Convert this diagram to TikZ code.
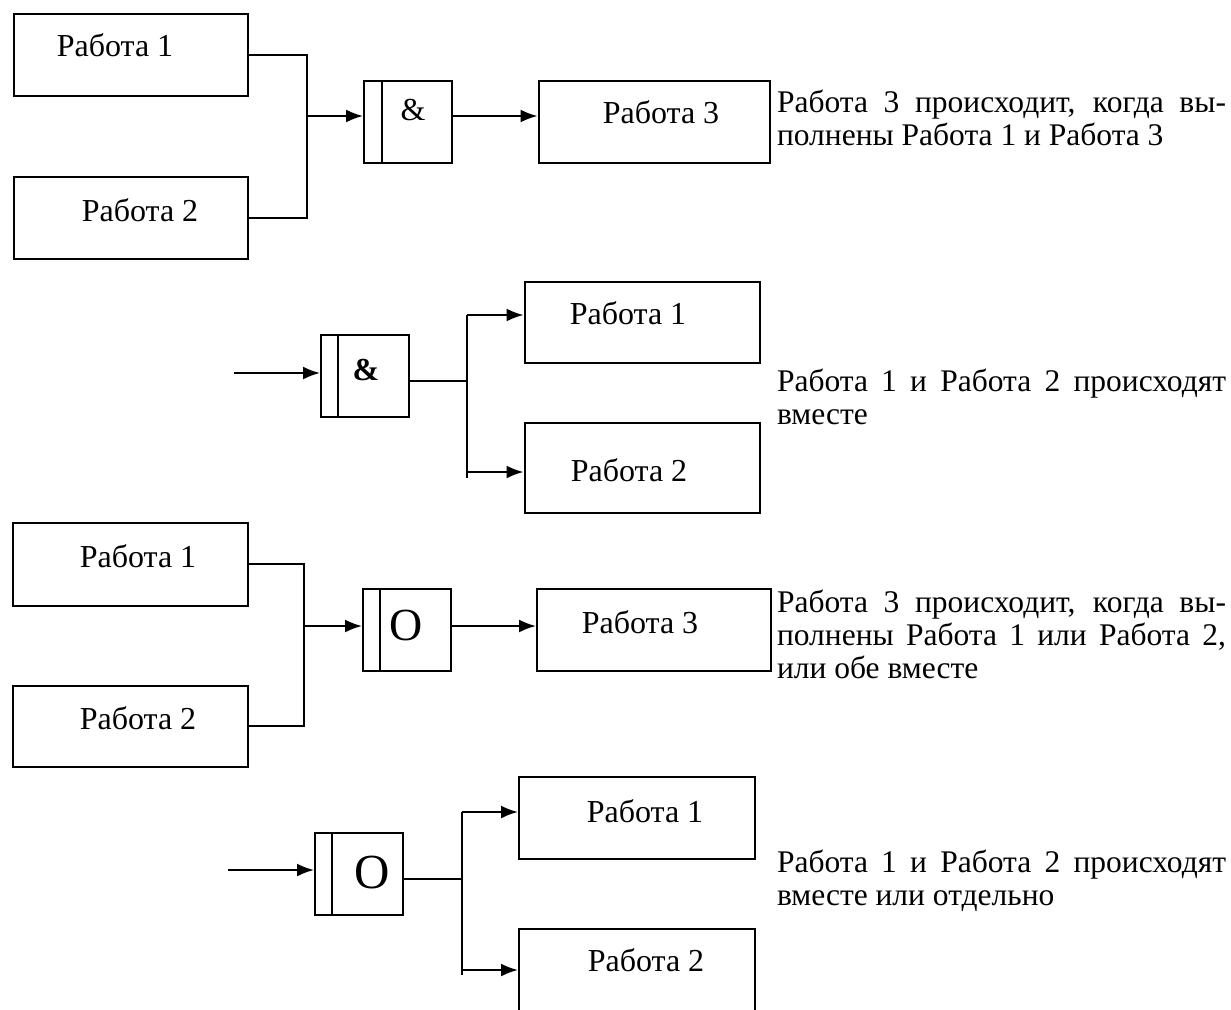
\documentclass[tikz,border=0pt]{standalone}
\usepackage{fontspec}
\setmainfont{Liberation Serif}
\usetikzlibrary{arrows.meta,positioning}

\begin{document}
\begin{tikzpicture}[x=1pt,y=-1pt,line width=2pt,
  job/.style={draw,rectangle,minimum width=234pt,minimum height=82pt,inner sep=0pt},
  gate/.style={draw,rectangle,minimum width=88pt,minimum height=82pt,inner sep=0pt},
  lbl/.style={inner sep=0pt,font=\fontsize{32}{35}\selectfont},
  sym/.style={inner sep=0pt,font=\fontsize{46}{50}\selectfont},
  note/.style={inner sep=0pt,anchor=base west,text width=449pt,align=justify,
    font=\fontsize{31.5}{33}\selectfont},
  arr/.style={-{Latex[length=17pt,width=13pt]}}]
\useasboundingbox (0,0) rectangle (1231,1009);
\clip (0,0) rectangle (1231,1009);
%%%%% first: AND join
\node[job] (a1) at (131,55) {};
\node[job] (a2) at (131,218) {};
\node[gate] (g1) at (408,122) {};
\node[job,minimum width=231pt] (a3) at (654,122) {};
\node[lbl] (a1t) at (115,45) {Работа 1};
\node[lbl] (a2t) at (140,210) {Работа 2};
\node[lbl] (a3t) at (661,112) {Работа 3};
\node[lbl] (g1t) at (413,110) {\&};
\draw ([xshift=19pt]g1.north west) -- ([xshift=19pt]g1.south west);
\coordinate (j1) at (307,116);
\draw (a1.east) -| (j1);
\draw (a2.east) -| (j1);
\draw[arr] (j1) -- (j1 -| g1.west);
\draw[arr] (j1 -| g1.east) -- (j1 -| a3.west);
\node[note] (n1) at (776,112) {Работа 3 происходит, когда вы-\linebreak полнены Работа 1 и Работа 3};
%%%%% second: AND split
\coordinate (s2) at (234,373);
\node[gate] (g2) at (365,376) {};
\node[lbl] (g2t) at (366,370) {\bfseries\&};
\draw ([xshift=18pt]g2.north west) -- ([xshift=18pt]g2.south west);
\node[job,minimum width=235pt,minimum height=81pt] (b1) at (642,322) {};
\node[job,minimum width=235pt,minimum height=90pt] (b2) at (642,468) {};
\node[lbl] (b1t) at (628,313) {Работа 1};
\node[lbl] (b2t) at (629,470) {Работа 2};
\coordinate (j2) at (467,381);
\coordinate (j2a) at (467,315);
\coordinate (j2b) at (467,472);
\draw[arr] (s2) -- (s2 -| g2.west);
\draw (j2 -| g2.east) -- (j2);
\draw (j2a) -- (467,478);
\draw[arr] (j2a) -- (j2a -| b1.west);
\draw[arr] (j2b) -- (j2b -| b2.west);
\node[note] (n2) at (776,391) {Работа 1 и Работа 2 происходят\linebreak вместе};
%%%%% third: OR join
\node[job,minimum width=235pt,minimum height=83pt] (c1) at (130,564) {};
\node[job,minimum width=235pt,minimum height=81pt] (c2) at (130,726) {};
\node[gate] (g3) at (407,630) {};
\node[job,minimum width=234pt,minimum height=82pt] (c3) at (654,630) {};
\node[lbl] (c1t) at (138,556) {Работа 1};
\node[lbl] (c2t) at (138,718) {Работа 2};
\node[lbl] (c3t) at (640,622) {Работа 3};
\node[sym] (g3t) at (406,625) {O};
\draw ([xshift=18pt]g3.north west) -- ([xshift=18pt]g3.south west);
\coordinate (j3) at (304,626);
\draw (c1.east) -| (j3);
\draw (c2.east) -| (j3);
\draw[arr] (j3) -- (j3 -| g3.west);
\draw[arr] (j3 -| g3.east) -- (j3 -| c3.west);
\node[note] (n3) at (776,612) {Работа 3 происходит, когда вы-\linebreak полнены Работа 1 или Работа 2,\linebreak или обе вместе};
%%%%% fourth: OR split
\coordinate (s4) at (228,870);
\node[gate] (g4) at (359,874) {};
\node[sym,font=\fontsize{49}{52}\selectfont] (g4t) at (372,873) {O};
\draw ([xshift=18pt]g4.north west) -- ([xshift=18pt]g4.south west);
\node[job,minimum width=236pt] (d1) at (637,818) {};
\node[job,minimum width=236pt] (d2) at (637,970) {};
\node[lbl] (d1t) at (645,811) {Работа 1};
\node[lbl] (d2t) at (646,960) {Работа 2};
\coordinate (j4) at (462,879);
\coordinate (j4a) at (462,812);
\coordinate (j4b) at (462,970);
\draw[arr] (s4) -- (s4 -| g4.west);
\draw (j4 -| g4.east) -- (j4);
\draw (j4a) -- (462,975);
\draw[arr] (j4a) -- (j4a -| d1.west);
\draw[arr] (j4b) -- (j4b -| d2.west);
\node[note] (n4) at (776,872) {Работа 1 и Работа 2 происходят\linebreak вместе или отдельно};
\end{tikzpicture}
\end{document}
